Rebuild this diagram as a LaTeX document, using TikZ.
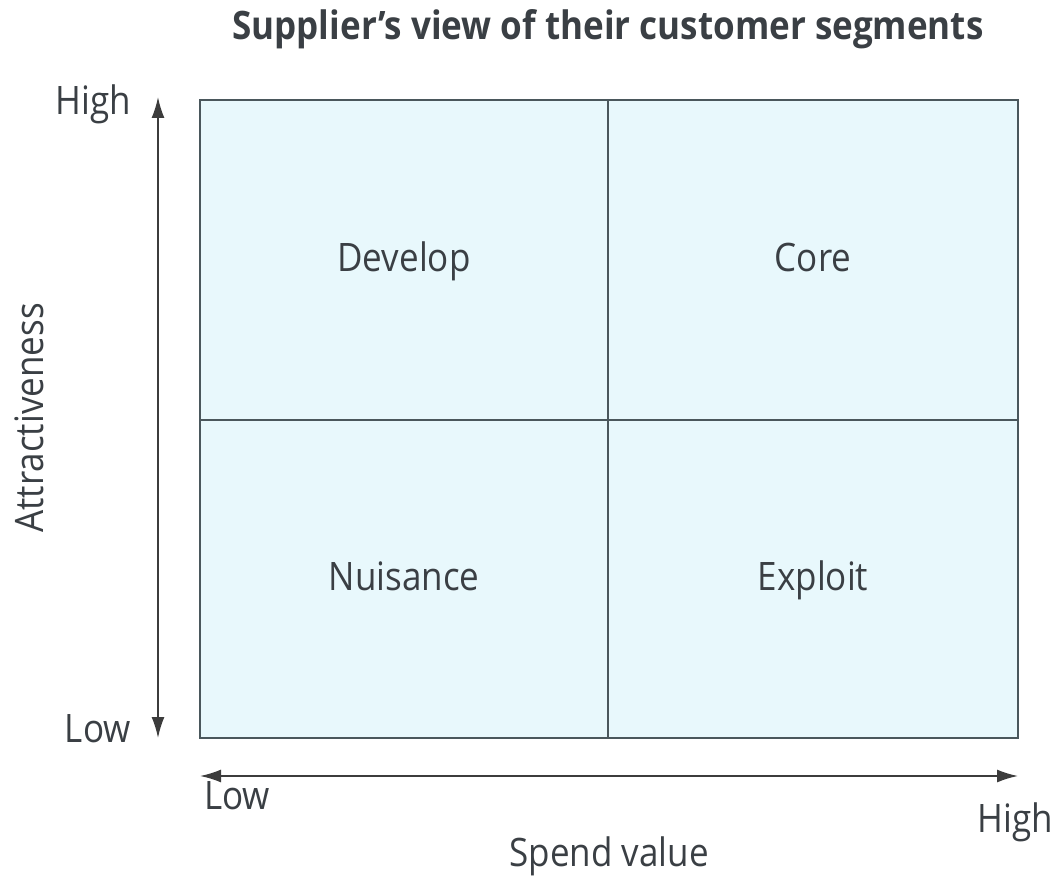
\documentclass[tikz,border=0pt]{standalone}
\usepackage{fontspec}
\usepackage{graphicx}
\setmainfont{Open Sans}
\usetikzlibrary{arrows.meta}
\definecolor{cellfill}{HTML}{E8F8FC}
\definecolor{gridline}{HTML}{4A575C}
\definecolor{textcol}{HTML}{3A3F44}
\definecolor{axiscol}{HTML}{3C3C3C}
% slightly tall lettering
\newcommand{\talltext}[1]{\scalebox{1}[1.12]{#1}}
\begin{document}
\begin{tikzpicture}[x=1pt,y=-1pt,
  quad/.style={font=\fontsize{35}{40}\selectfont,text=textcol,anchor=base,inner sep=0pt},
  axlabel/.style={font=\fontsize{35}{40}\selectfont,text=textcol,inner sep=0pt},
  axis/.style={draw=axiscol,line width=1.8pt,{Latex[length=21pt,width=13pt]}-{Latex[length=21pt,width=13pt]}}]
\useasboundingbox (0,0) rectangle (1061,885);
% title
\node[font=\bfseries\fontsize{35}{40}\selectfont,text=textcol,anchor=base,inner sep=0pt] (title) at (608,40) {\talltext{Supplier’s view of their customer segments}};
% matrix of four segments
\coordinate (tl) at (200,100);
\coordinate (br) at (1018,738);
\draw[gridline,line width=1.4pt,fill=cellfill] (tl) rectangle (br);
\draw[gridline,line width=1.4pt] (608,100) -- (608,738);
\draw[gridline,line width=1.4pt] (200,420) -- (1018,420);
\node[quad] (develop) at (404,272) {\talltext{Develop}};
\node[quad] (core) at (813,272) {\talltext{Core}};
\node[quad] (nuisance) at (404,590) {\talltext{Nuisance}};
\node[quad] (exploit) at (813,590) {\talltext{Exploit}};
% vertical axis
\coordinate (ytop) at (158,97);
\coordinate (ybot) at (158,738);
\draw[axis] (ybot) -- (ytop);
\node[axlabel,anchor=base east] (yhigh) at (131,115) {\talltext{High}};
\node[axlabel,anchor=base east] (ylow) at (131,742) {\talltext{Low}};
\node[axlabel,rotate=90,anchor=base] (ylabel) at (43,418) {\talltext{Attractiveness}};
% horizontal axis
\coordinate (xleft) at (200,776);
\coordinate (xright) at (1018,776);
\draw[axis] (xleft) -- (xright);
\node[axlabel,anchor=base west] (xlow) at (204,809) {\talltext{Low}};
\node[axlabel,anchor=base east] (xhigh) at (1053,832) {\talltext{High}};
\node[axlabel,anchor=base] (xlabel) at (609,866) {\talltext{Spend value}};
\end{tikzpicture}
\end{document}
